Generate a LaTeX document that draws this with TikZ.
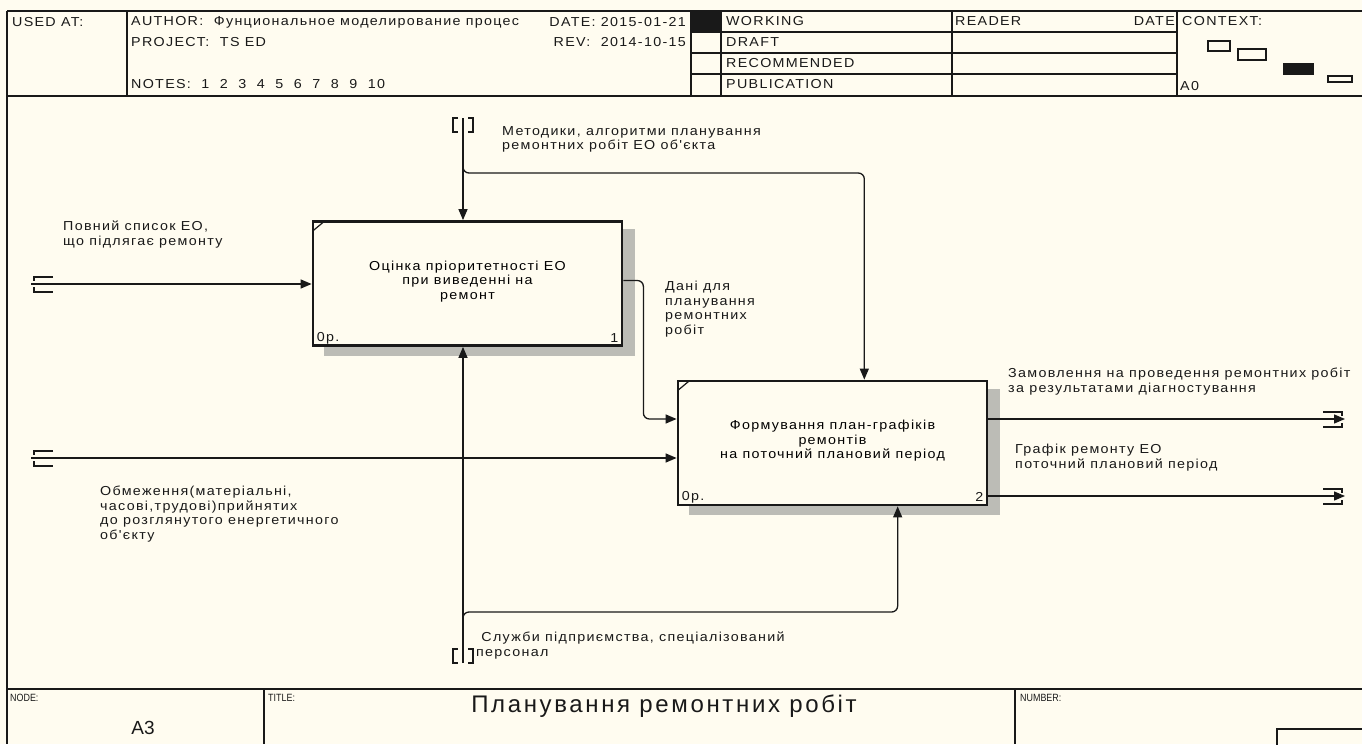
\documentclass[tikz,border=0pt]{standalone}
\usepackage{fontspec}
\setmainfont{Liberation Sans}
\newfontfamily\idf[FakeStretch=1.1,LetterSpace=10]{Liberation Sans}
\newfontfamily\ttlf[LetterSpace=11]{Liberation Sans}
\newfontfamily\smf[FakeStretch=0.85]{Liberation Sans}
\usetikzlibrary{arrows.meta,calc,positioning,backgrounds}
\definecolor{paper}{RGB}{255,252,240}
\definecolor{ink}{RGB}{25,25,25}
\definecolor{hatchgray}{RGB}{188,188,182}
\tikzset{
  frame/.style={draw=ink,line width=1.4pt},
  act/.style={draw=ink,fill=paper,line width=2.8pt,minimum width=309pt,minimum height=124pt,
    inner sep=0pt,align=center,font=\idf\fontsize{13}{14.5}\selectfont},
  arr/.style={draw=ink,line width=1.3pt,-{Triangle[length=11pt,width=9pt]}},
  brk/.style={draw=ink,line width=1.3pt},
  hd/.style={font=\idf\fontsize{13}{13}\selectfont,inner sep=0pt,anchor=west,text=ink},
  lbl/.style={font=\idf\fontsize{13}{14.5}\selectfont,inner sep=0pt,align=left,anchor=north west,text=ink},
  sm/.style={font=\smf\fontsize{10.5}{11}\selectfont,inner sep=0pt,anchor=west,text=ink}
}
\begin{document}
\begin{tikzpicture}[x=1pt,y=-1pt]
  \useasboundingbox (0,0) rectangle (1362,744);

  % header
  \draw[frame] (7,11) -- (1362,11) (7,96) -- (1362,96) (7,11) -- (7,744);
  \foreach \x in {127,691,721,952,1177}
    \draw[frame] (\x,11) -- (\x,96);
  \foreach \y in {32,53,74}
    \draw[frame] (691,\y) -- (1177,\y);
  \fill[ink] (691,11) rectangle (721,32);
  \node[hd] (usedat) at (12,22) {USED AT:};
  \node[hd] (author) at (131,22) {AUTHOR:\ \ Фунциональное моделирование процес};
  \node[hd,anchor=east] (date) at (686,22) {DATE: 2015-01-21};
  \node[hd] (project) at (131,42) {PROJECT:\ \ TS ED};
  \node[hd,anchor=east] (rev) at (686,42) {REV:\ \ 2014-10-15};
  \node[hd] (notes) at (131,84) {NOTES:\ \ 1\ \ 2\ \ 3\ \ 4\ \ 5\ \ 6\ \ 7\ \ 8\ \ 9\ \ 10};
  \node[hd] (working) at (726,21) {WORKING};
  \node[hd] (draft) at (726,42) {DRAFT};
  \node[hd] (recom) at (726,63) {RECOMMENDED};
  \node[hd] (public) at (726,84) {PUBLICATION};
  \node[hd] (reader) at (955,21) {READER};
  \node[hd,anchor=east] (rdate) at (1175,21) {DATE};
  \node[hd] (context) at (1182,21) {CONTEXT:};
  \node[hd] (ctxnode) at (1180,86) {A0};
  \draw[frame] (1208,41) rectangle (1230,51) (1238,49) rectangle (1266,60)
    (1328,76) rectangle (1352,82);
  \fill[ink] (1283,63) rectangle (1314,75);

  % footer
  \draw[frame] (7,689) -- (1362,689) (264,689) -- (264,744) (1015,689) -- (1015,744)
    (1277,729) rectangle (1370,750);
  \node[sm] (nodelbl) at (10,698) {NODE:};
  \node[sm] (titlelbl) at (268,698) {TITLE:};
  \node[sm] (numlbl) at (1020,698) {NUMBER:};
  \node[font=\fontsize{19}{19}\selectfont,inner sep=0pt,text=ink] (nodeno) at (143,728) {A3};
  \node[font=\ttlf\fontsize{24}{24}\selectfont,inner sep=0pt,text=ink] (title) at (664,706)
    {Планування ремонтних робіт};

  % activities
  \node[act] (b1) at (467.5,283.5) {Оцінка пріоритетності ЕО\\при виведенні на\\ремонт\\[-8pt]};
  \node[act] (b2) at (832.5,443) {Формування план-графіків\\ремонтів\\на поточний плановий період\\[-8pt]};
  \begin{scope}[on background layer]
    \fill[paper] (0,0) rectangle (1362,744);
    \foreach \b in {b1,b2}
      \fill[hatchgray] ($(\b.north west)+(12,9)$) rectangle ($(\b.south east)+(12,9)$);
  \end{scope}
  \foreach \b/\n in {b1/1,b2/2} {
    \draw[line width=1.2pt,ink] ($(\b.north west)+(1,11)$) -- ($(\b.north west)+(13,1)$);
    \node[hd] (\b cost) at ($(\b.south west)+(5,-9)$) {0р.};
    \node[hd,anchor=east] (\b num) at ($(\b.south east)+(-5,-9)$) {\n};
  }

  % tunnel ends
  \coordinate (in1) at (31,284);
  \coordinate (in2) at (31,458);
  \coordinate (c1) at (463,118);
  \coordinate (cb) at (463,166);
  \coordinate (cj) at (470,173);
  \coordinate (m1) at (463,663);
  \coordinate (mb) at (463,619);
  \coordinate (mj) at (470,612);
  \coordinate (o1) at (1345,419);
  \coordinate (o2) at (1345,496);
  \coordinate (b2top) at ($(b2.north west)!0.602!(b2.north east)$);
  \coordinate (b2bot) at ($(b2.south west)!0.709!(b2.south east)$);

  % inputs
  \draw[arr] (in1) -- (in1 -| b1.west);
  \draw[arr] (in2) -- (in2 -| b2.west);
  \draw[arr,rounded corners=6pt] ([yshift=3pt]b1.east) -- ++(20,0) |- ([yshift=24pt]b2.west);
  % controls
  \draw[arr] (c1) -- (c1 |- b1.north);
  \draw[arr,rounded corners=6pt] (cb) |- (b2top |- cj) -- (b2top);
  % mechanisms
  \draw[arr] (m1) -- (m1 |- b1.south);
  \draw[arr,rounded corners=6pt] (mb) |- (b2bot |- mj) -- (b2bot);
  % outputs
  \draw[arr] ([yshift=24pt]b2.east) -- (o1);
  \draw[arr] ([yshift=-53pt]b2.east) -- (o2);

  % brackets
  \foreach \p in {in1,in2}
    \draw[brk] ($(\p)+(22,-7)$) -- ($(\p)+(3,-7)$) -- ($(\p)+(3,-3)$)
      ($(\p)+(3,3)$) -- ($(\p)+(3,8)$) -- ($(\p)+(22,8)$);
  \foreach \p in {o1,o2}
    \draw[brk] ($(\p)+(-22,-7)$) -- ($(\p)+(-3,-7)$) -- ($(\p)+(-3,-3)$)
      ($(\p)+(-3,4)$) -- ($(\p)+(-3,8)$) -- ($(\p)+(-22,8)$);
  \draw[brk] ($(c1)+(-5,0)$) -- ($(c1)+(-10,0)$) -- ($(c1)+(-10,14)$) -- ($(c1)+(-5,14)$)
    ($(c1)+(5,0)$) -- ($(c1)+(10,0)$) -- ($(c1)+(10,14)$) -- ($(c1)+(5,14)$);
  \draw[brk] ($(m1)+(-5,-14)$) -- ($(m1)+(-10,-14)$) -- ($(m1)+(-10,0)$) -- ($(m1)+(-5,0)$)
    ($(m1)+(5,-14)$) -- ($(m1)+(10,-14)$) -- ($(m1)+(10,0)$) -- ($(m1)+(5,0)$);

  % arrow labels
  \node[lbl] (lin1) at (63,221) {Повний список ЕО,\\що підлягає ремонту};
  \node[lbl] (lin2) at (100,486) {Обмеження(матеріальні,\\часові,трудові)прийнятих\\до розглянутого енергетичного\\об'єкту};
  \node[lbl] (lctl) at (502,126) {Методики, алгоритми планування\\ремонтних робіт ЕО об'єкта};
  \node[lbl] (lmid) at (665,281) {Дані для\\планування\\ремонтних\\робіт};
  \node[lbl] (lmech) at (476,632) {\ Служби підприємства, спеціалізований\\персонал};
  \node[lbl] (lout1) at (1008,368) {Замовлення на проведення ремонтних робіт\\за результатами діагностування};
  \node[lbl] (lout2) at (1015,444) {Графік ремонту ЕО\\поточний плановий період};
\end{tikzpicture}
\end{document}
